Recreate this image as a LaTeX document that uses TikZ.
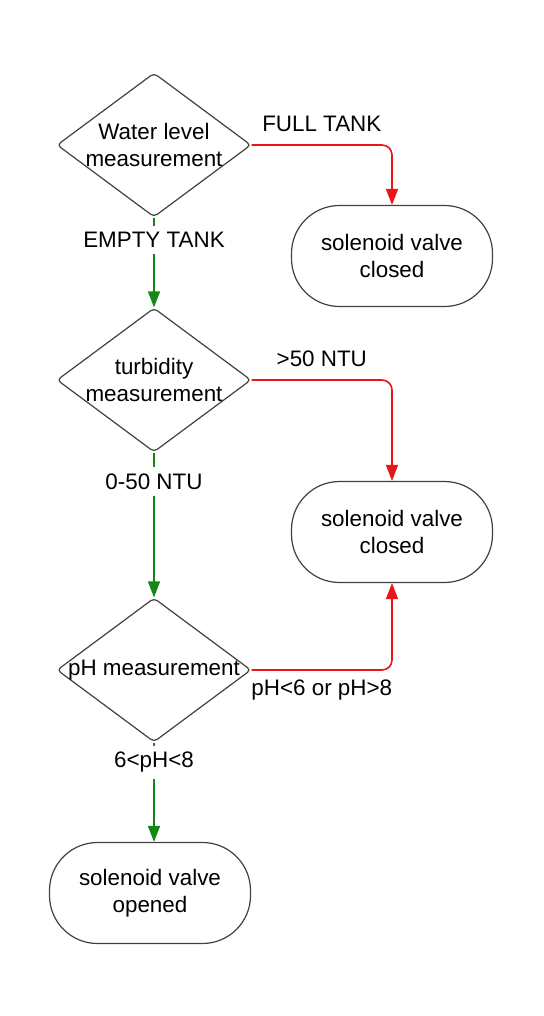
\documentclass[tikz,border=0pt]{standalone}
\usepackage{fontspec}
\setmainfont{Liberation Sans}
\usetikzlibrary{arrows.meta}
\usetikzlibrary{shapes}
\definecolor{okgreen}{RGB}{20,135,20}
\definecolor{badred}{RGB}{232,22,22}

\begin{document}
\begin{tikzpicture}[x=0.5pt, y=-0.5pt, >={Triangle[width=6pt,length=8pt]}, font=\fontsize{11.2}{13.5}\selectfont,
    check/.style = {draw=black!75, line width=0.6pt, diamond, aspect=1.36, minimum width=97pt, minimum height=72pt, inner xsep=-20pt, inner ysep=0pt, align=center, rounded corners=2pt},
    valve/.style = {draw=black!75, line width=0.6pt, rectangle, rounded corners=24pt, minimum width=100.5pt, minimum height=50.5pt, align=center},
    ok/.style = {->, draw=okgreen, line width=0.8pt},
    bad/.style = {->, draw=badred, line width=0.8pt, rounded corners=5pt}]
    \useasboundingbox (0,0) rectangle (544,1016);
    % Nodes

    \node[check] (1) at (154, 145) {Water level\\measurement};
    \node[valve] (2) at (392, 256) {solenoid valve\\closed};
    \node[check] (3) at (154, 380) {turbidity\\measurement};
    \node[valve] (4) at (392, 532) {solenoid valve\\closed};
    \node[check] (5) at (154, 670) {pH measurement};
    \node[valve] (6) at (150, 893) {solenoid valve\\opened};

    % Edges
    \draw[bad] (1.east) -| node[pos=0.25, above=3pt] {FULL TANK} (2.north);
    \draw[ok]  (1.south) -- node[pos=0.25, fill=white] {EMPTY TANK} (3.north);
    \draw[bad] (3.east) -| node[pos=0.25, above=3pt] {>50 NTU} (4.north);
    \draw[ok]  (3.south) -- node[pos=0.2, fill=white] {0-50 NTU} (5.north);
    \draw[bad] (5.east) -| node[pos=0.25, below=1pt] {pH<6 or pH>8} (4.south);
    \draw[ok]  (5.south) -- node[pos=0.2, fill=white] {6<pH<8} (5.south |- 6.north);

\end{tikzpicture}
\end{document}
